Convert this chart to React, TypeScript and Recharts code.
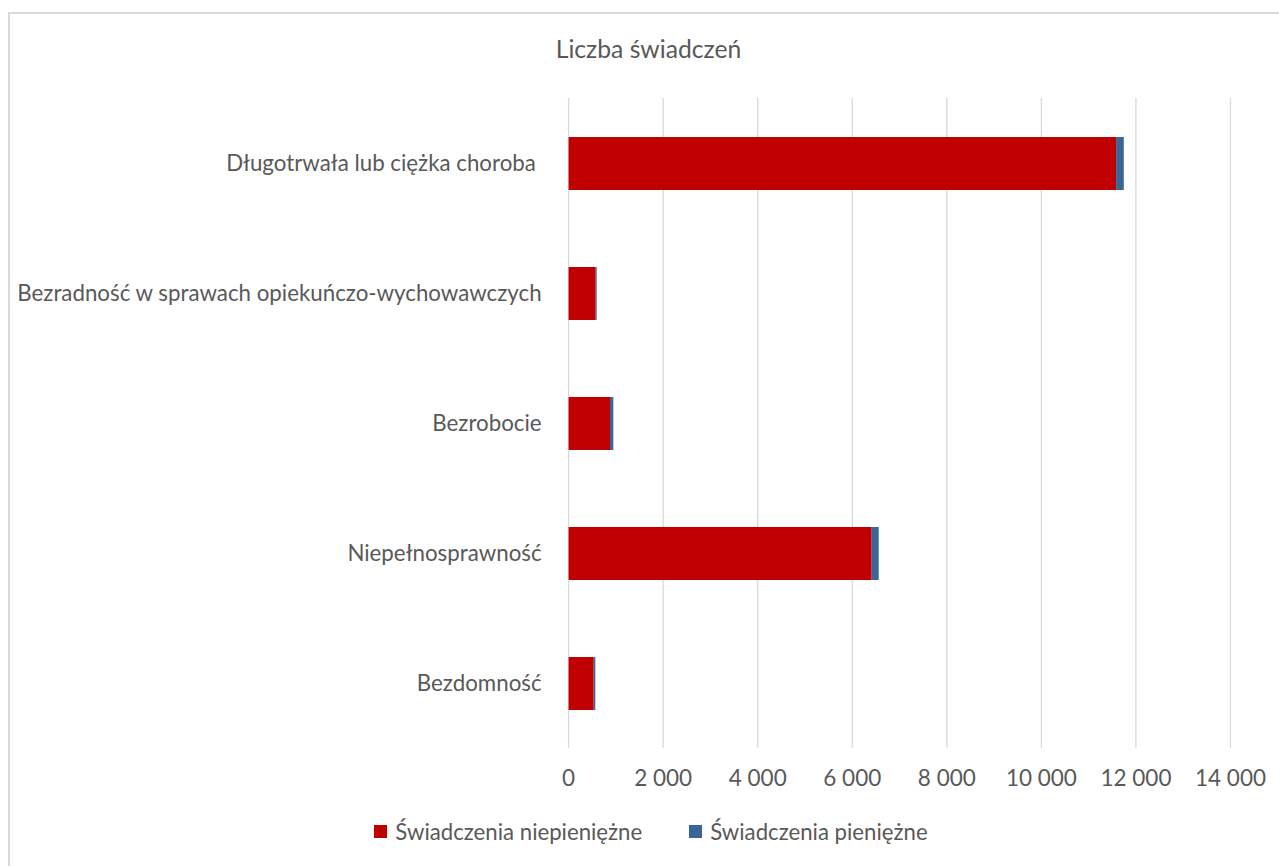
import React from 'react';
import { BarChart, Bar, XAxis, YAxis, CartesianGrid, Legend } from 'recharts';

const categories = [
  'Długotrwała lub ciężka choroba\u00A0',
  'Bezradność w sprawach opiekuńczo-wychowawczych',
  'Bezrobocie',
  'Niepełnosprawność',
  'Bezdomność',
];
const niepieniezne = [11580, 573, 876, 6411, 531];
const pieniezne = [163, 21, 70, 148, 34];
const xTicks = [0, 2000, 4000, 6000, 8000, 10000, 12000, 14000];

const SERIES = [
  { key: 'niepieniezne', name: 'Świadczenia niepieniężne', color: '#C00000' },
  { key: 'pieniezne', name: 'Świadczenia pieniężne', color: '#3A6597' },
];

const data = categories.map((name, i) => ({
  name,
  niepieniezne: niepieniezne[i],
  pieniezne: pieniezne[i],
}));

const FONT = 'Lato, "Open Sans", sans-serif';
const TEXT = '#595959';

const fmt = (v: number) => {
  const s = String(Math.round(v));
  return s.replace(/\B(?=(\d{3})+(?!\d))/g, ' ');
};

const LegendContent = () => (
  <div style={{ display: 'flex', justifyContent: 'center', alignItems: 'center', fontFamily: FONT, fontSize: 22.2, color: TEXT }}>
    {SERIES.map((s, i) => (
      <div key={s.key} style={{ display: 'flex', alignItems: 'center', marginLeft: i ? 47 : 0 }}>
        <div style={{ width: 13, height: 13, background: s.color, marginRight: 8 }} />
        <span>{s.name}</span>
      </div>
    ))}
  </div>
);

export default function App() {
  return (
    <div style={{ position: 'fixed', left: 0, top: 0, width: 1279, height: 866, overflow: 'hidden', background: '#fff', fontFamily: FONT }}>
      <div style={{ position: 'absolute', left: 8, top: 12, width: 1300, height: 900, border: '2px solid #d9d9d9', boxSizing: 'border-box' }} />
      <div style={{ position: 'absolute', left: 0, top: 34, width: 1297, textAlign: 'center', fontSize: 24.7, color: TEXT, lineHeight: '30px' }}>
        Liczba świadczeń
      </div>
      <div style={{ position: 'absolute', left: 0, top: 0 }}>
        <BarChart
          width={1279}
          height={866}
          layout="vertical"
          data={data}
          margin={{ top: 98, right: 48.5, bottom: 88, left: 0 }}
        >
          <CartesianGrid horizontal={false} vertical={true} stroke="#d9d9d9" strokeWidth={1.3} />
          <XAxis
            type="number"
            domain={[0, 14000]}
            ticks={xTicks}
            tickFormatter={fmt}
            axisLine={false}
            tickLine={false}
            tickSize={0}
            tickMargin={22}
            height={30}
            interval={0}
            tick={{ fill: TEXT, fontSize: 22.5, fontFamily: FONT }}
          />
          <YAxis
            type="category"
            dataKey="name"
            width={568.6}
            axisLine={false}
            tickLine={false}
            tickSize={0}
            tickMargin={27}
            interval={0}
            tick={{ fill: TEXT, fontSize: 22.3, fontFamily: FONT }}
          />
          <Legend
            layout="horizontal"
            verticalAlign="middle"
            align="center"
            content={<LegendContent />}
            wrapperStyle={{ position: 'absolute', top: 818, left: 0, width: 1302 }}
          />
          {SERIES.map((s) => (
            <Bar
              key={s.key}
              dataKey={s.key}
              name={s.name}
              stackId="a"
              fill={s.color}
              barSize={53}
              isAnimationActive={false}
            />
          ))}
        </BarChart>
      </div>
    </div>
  );
}
